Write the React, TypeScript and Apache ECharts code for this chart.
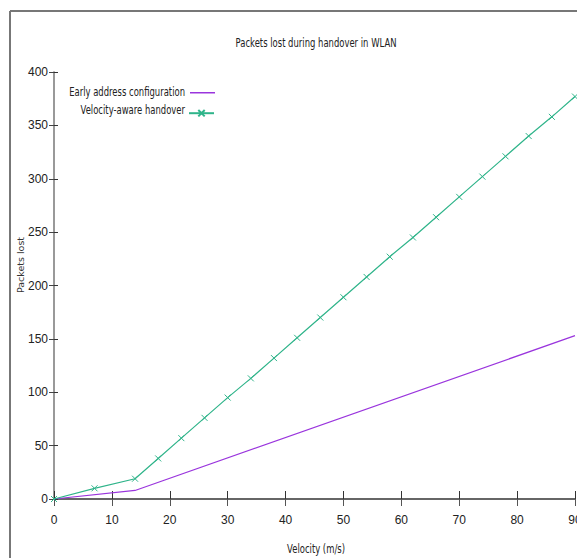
import React, { useEffect, useRef } from "react";
import * as echarts from "echarts";

const title = "Packets lost during handover in WLAN";
const xName = "Velocity (m/s)";
const yName = "Packets lost";
const seriesNames = ["Early address configuration", "Velocity-aware handover"];

const earlyVelocity = [0, 14, 90];
const earlyLoss = [0, 8, 153];

const awareVelocity = [0, 7, 14, 18, 22, 26, 30, 34, 38, 42, 46, 50, 54, 58, 62, 66, 70, 74, 78, 82, 86, 90];
const awareLoss = [0, 10, 19, 38, 57, 76, 95, 113, 132, 151, 170, 189, 208, 227, 245, 264, 283, 302, 321, 340, 358, 377];

const PURPLE = "#9a35dd";
const GREEN = "#2fb48a";
const FONT = "'DejaVu Sans', sans-serif";
const TICK_FONT = "'Liberation Sans', sans-serif";
const SQUEEZE = 0.65;

export default function App() {
  const ref = useRef<HTMLDivElement>(null);
  useEffect(() => {
    if (!ref.current) return;
    const chart = echarts.init(ref.current, null, { renderer: "svg" });
    const xCommon = { type: "value", min: 0, max: 90, interval: 10, splitLine: { show: false } };
    const yCommon = { type: "value", min: 0, max: 400, interval: 50, splitLine: { show: false } };
    const squeezedText = (text: string, x: number, y: number, align: string) => ({
      type: "text",
      x,
      y,
      scaleX: SQUEEZE,
      style: {
        text,
        fontFamily: FONT,
        fontSize: 13,
        fill: "#222",
        align,
        verticalAlign: "middle",
      },
    });
    chart.setOption({
      animation: false,
      backgroundColor: "#ffffff",
      grid: { left: 54, right: 2, top: 72, bottom: 59, show: false, outerBoundsMode: "none", containLabel: false },
      legend: [
        {
          data: [{ name: seriesNames[0], icon: "rect" }],
          right: 357,
          top: 87,
          align: "right",
          itemWidth: 25,
          itemHeight: 1.5,
          formatter: () => "",
          selectedMode: false,
        },
        {
          data: [seriesNames[1]],
          right: 357,
          top: 104,
          align: "right",
          itemWidth: 25,
          itemHeight: 8,
          formatter: () => "",
          selectedMode: false,
        },
      ],
      xAxis: [
        {
          ...xCommon,
          position: "bottom",
          axisLine: { show: true, lineStyle: { color: "#000", width: 1.5 } },
          axisTick: { show: true, inside: true, length: 8, lineStyle: { color: "#333" } },
          axisLabel: { margin: 15, fontFamily: TICK_FONT, fontSize: 12, color: "#222" },
        },
        {
          ...xCommon,
          position: "top",
          axisLine: { show: true, lineStyle: { color: "#666", width: 2 } },
          axisTick: { show: true, inside: true, length: 7, lineStyle: { color: "#555" } },
          axisLabel: { show: false },
        },
      ],
      yAxis: [
        {
          ...yCommon,
          position: "left",
          axisLine: { show: true, lineStyle: { color: "#bbb", width: 1.5 } },
          axisTick: { show: true, inside: true, length: 4, lineStyle: { color: "#333" } },
          axisLabel: { margin: 6, fontFamily: TICK_FONT, fontSize: 12, color: "#222" },
        },
        {
          ...yCommon,
          position: "right",
          axisLine: { show: true, lineStyle: { color: "#888", width: 1.5 } },
          axisTick: { show: true, inside: true, length: 5, lineStyle: { color: "#444" } },
          axisLabel: { show: false },
        },
      ],
      graphic: [
        {
          type: "line",
          shape: { x1: 10, y1: 11, x2: 10, y2: 600 },
          style: { stroke: "#777", lineWidth: 2 },
        },
        {
          type: "line",
          shape: { x1: 10, y1: 11, x2: 600, y2: 11 },
          style: { stroke: "#777", lineWidth: 2 },
        },
        squeezedText(title, 316, 43, "center"),
        squeezedText(seriesNames[0], 185, 92, "right"),
        squeezedText(seriesNames[1], 185, 110, "right"),
        squeezedText(xName, 316, 549, "center"),
        {
          type: "text",
          x: 20,
          y: 265,
          rotation: Math.PI / 2,
          style: {
            text: yName,
            fontFamily: FONT,
            fontSize: 9.5,
            fill: "#333",
            align: "center",
            verticalAlign: "middle",
          },
        },
      ],
      series: [
        {
          name: seriesNames[0],
          type: "line",
          xAxisIndex: 0,
          yAxisIndex: 0,
          data: earlyVelocity.map((v, i) => [v, earlyLoss[i]]),
          showSymbol: false,
          symbol: "none",
          color: PURPLE,
          lineStyle: { color: PURPLE, width: 1.2 },
        },
        {
          name: seriesNames[1],
          type: "line",
          xAxisIndex: 0,
          yAxisIndex: 0,
          data: awareVelocity.map((v, i) => [v, awareLoss[i]]),
          symbol: "path://M0,0L10,10M10,0L0,10",
          symbolSize: 6,
          color: GREEN,
          lineStyle: { color: GREEN, width: 1.2 },
          itemStyle: { color: GREEN, borderColor: GREEN, borderWidth: 1 },
          z: 3,
        },
      ],
    });
    return () => chart.dispose();
  }, []);
  return (
    <div
      ref={ref}
      style={{ position: "fixed", left: 0, top: 0, width: 577, height: 558 }}
    />
  );
}
